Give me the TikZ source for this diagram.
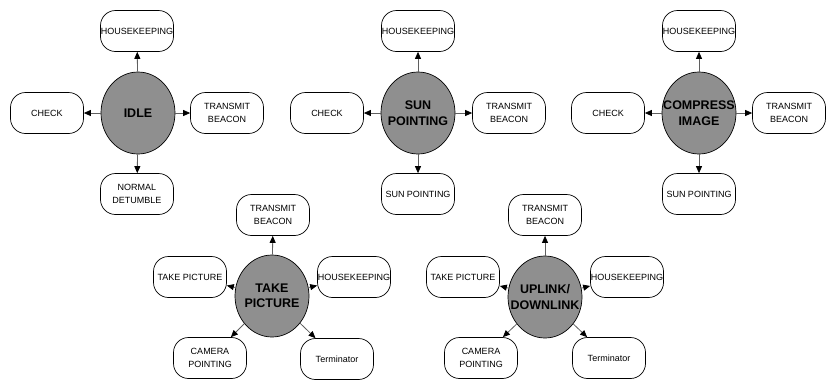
\documentclass[tikz,border=0pt]{standalone}
\usepackage{fontspec}
\setmainfont{Liberation Sans}
\usetikzlibrary{shapes.geometric,arrows.meta}
\definecolor{stategray}{RGB}{143,143,143}
\definecolor{linegray}{RGB}{95,95,95}
\begin{document}
\begin{tikzpicture}[x=1pt,y=-1pt,
  box/.style={draw=black, line width=0.7pt, rounded corners=15pt, minimum width=73pt, minimum height=41pt, inner sep=0pt, align=center, font=\fontsize{9}{12.5}\selectfont},
  state/.style={ellipse, draw=black, line width=0.7pt, fill=stategray, minimum width=74pt, minimum height=82pt, inner sep=0pt},
  statetext/.style={inner sep=0pt, align=center, font=\bfseries\fontsize{12.5}{15.5}\selectfont},
  arr/.style={draw=linegray, line width=0.8pt, -{Triangle[length=7pt,width=6pt,color=black]}}]
\useasboundingbox (0,0) rectangle (833,381);
% group 1
\node[state] (e1) at (138,113) {};
\node[statetext] (l1) at (e1) {IDLE};
\node[box] (h1) at (137,31) {HOUSEKEEPING};
\node[box] (c1) at (47,113) {CHECK};
\node[box] (t1) at (227,113) {TRANSMIT\\BEACON};
\node[box] (n1) at (137,194) {NORMAL\\DETUMBLE};
\foreach \b in {h1,c1,t1,n1} \draw[arr] (e1) -- (\b);
% group 2
\node[state] (e2) at (418,113) {};
\node[statetext] (l2) at (e2) {SUN\\POINTING};
\node[box] (h2) at (418,31) {HOUSEKEEPING};
\node[box] (c2) at (327,113) {CHECK};
\node[box] (t2) at (509,113) {TRANSMIT\\BEACON};
\node[box] (s2) at (418,194) {SUN POINTING};
\foreach \b in {h2,c2,t2,s2} \draw[arr] (e2) -- (\b);
% group 3
\node[state] (e3) at (699,113) {};
\node[statetext] (l3) at (e3) {COMPRESS\\IMAGE};
\node[box] (h3) at (699,31) {HOUSEKEEPING};
\node[box] (c3) at (608,113) {CHECK};
\node[box] (t3) at (789,113) {TRANSMIT\\BEACON};
\node[box] (s3) at (699,194) {SUN POINTING};
\foreach \b in {h3,c3,t3,s3} \draw[arr] (e3) -- (\b);
% group 4
\node[state] (e4) at (272,296) {};
\node[statetext] (l4) at (e4) {TAKE\\PICTURE};
\node[box] (t4) at (273,215) {TRANSMIT\\BEACON};
\node[box] (p4) at (190,277) {TAKE PICTURE};
\node[box] (h4) at (354,277) {HOUSEKEEPING};
\node[box] (cp4) at (210,358) {CAMERA\\POINTING};
\node[box] (tm4) at (337,359) {Terminator};
\foreach \b in {t4,p4,h4,cp4,tm4} \draw[arr] (e4) -- (\b);
% group 5
\node[state] (e5) at (545,297) {};
\node[statetext] (l5) at (e5) {UPLINK/\\DOWNLINK};
\node[box] (t5) at (545,215) {TRANSMIT\\BEACON};
\node[box] (p5) at (463,277) {TAKE PICTURE};
\node[box] (h5) at (627,277) {HOUSEKEEPING};
\node[box] (cp5) at (481,358) {CAMERA\\POINTING};
\node[box] (tm5) at (609,358) {Terminator};
\foreach \b in {t5,p5,h5,cp5,tm5} \draw[arr] (e5) -- (\b);
\end{tikzpicture}
\end{document}
